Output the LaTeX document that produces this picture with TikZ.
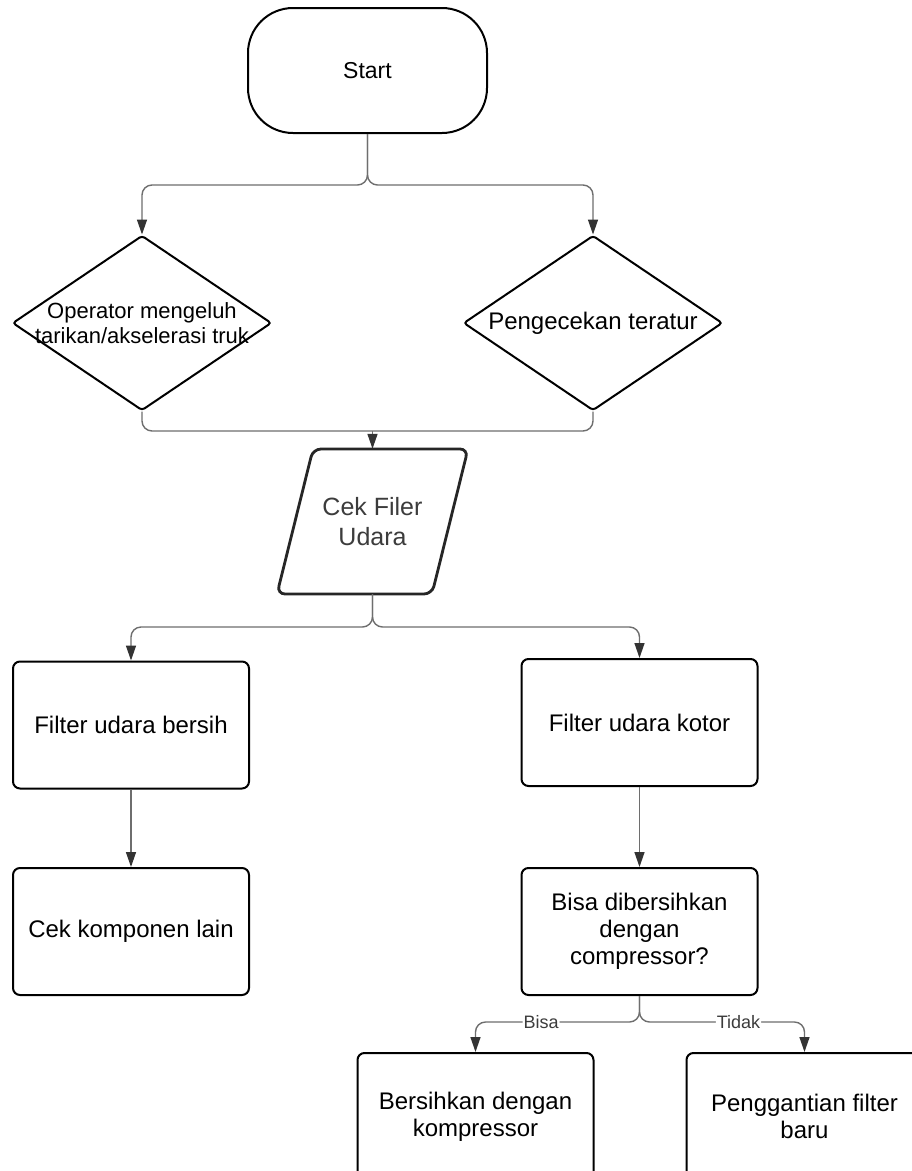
\documentclass[tikz,border=0pt]{standalone}
\usepackage{fontspec}
\setmainfont{Liberation Sans}
\usetikzlibrary{arrows.meta,shapes.geometric,calc}
\definecolor{linegray}{HTML}{6E6E6E}
\definecolor{tipgray}{HTML}{333333}
\definecolor{inkgray}{HTML}{3C3C3C}

\begin{document}
\begin{tikzpicture}[x=1pt,y=-1pt,
  box/.style={draw=black, line width=2pt, rounded corners=7pt,
    minimum width=236pt, minimum height=127pt, inner sep=0pt,
    align=center, font=\fontsize{24}{27}\selectfont},
  decision/.style={draw=black, line width=2pt, diamond, rounded corners=3pt,
    minimum width=259pt, minimum height=175pt, inner sep=0pt},
  terminal/.style={draw=black, line width=2pt, rounded corners=45pt,
    minimum width=239pt, minimum height=125pt, inner sep=0pt,
    font=\fontsize{23}{27}\selectfont},
  link/.style={draw=linegray, line width=1.4pt, rounded corners=10pt},
  conn/.style={link, -{Triangle[length=15pt,width=10pt,color=tipgray]}},
  lbl/.style={fill=white, text=inkgray, inner sep=1pt,
    font=\fontsize{18}{20}\selectfont},
  dtext/.style={align=center, font=\fontsize{22}{25}\selectfont},
]
% canvas
\useasboundingbox (0,0) rectangle (912,1171);
\fill[white] (0,0) rectangle (912,1171);
\clip (0,0) rectangle (912,1171);

% nodes
\node[terminal] (start) at (367.5,70.5) {Start};

\node[decision, label={[dtext]center:Operator mengeluh\\tarikan/akselerasi truk}] (d1) at (142,323) {};
\node[decision, label={[dtext, font=\fontsize{24}{27}\selectfont]center:Pengecekan teratur}] (d2) at (593,323) {};

\node[minimum width=155pt, minimum height=145pt, inner sep=0pt, align=center,
      text=inkgray, font=\fontsize{25}{30}\selectfont] (cek) at (372.5,521.5) {Cek Filer\\Udara};
\draw[line width=2.8pt, draw=black!85, rounded corners=8pt]
  ($(cek)+(-59.5,-72.5)$) -- ($(cek)+(95.5,-72.5)$) --
  ($(cek)+(59.5,72.5)$) -- ($(cek)+(-95.5,72.5)$) -- cycle;

\node[box] (bersih) at (131,725) {Filter udara bersih};
\node[box] (kotor) at (639.5,722.5) {Filter udara kotor};
\node[box] (lain) at (131,931.5) {Cek komponen lain};
\node[box] (dec) at (639.5,931.5) {Bisa dibersihkan\\dengan\\compressor?};
\node[box] (clean) at (475.5,1116.5) {Bersihkan dengan\\kompressor};
\node[box] (ganti) at (804.5,1116.5) {Penggantian filter\\baru};

% junction levels
\coordinate (j1) at (0,185);
\coordinate (j2) at (0,431);
\coordinate (j3) at (0,627);
\coordinate (j4) at (0,1022);

% connectors
\draw[conn] (start.south) -- (start.south |- j1) -- (d1.north |- j1) -- (d1.north);
\draw[conn] (start.south) -- (start.south |- j1) -- (d2.north |- j1) -- (d2.north);

\draw[link] (d1.south) -- (d1.south |- j2) -- (d2.south |- j2) -- (d2.south);
\draw[conn] (cek.north |- j2) -- (cek.north);

\draw[conn] (cek.south) -- (cek.south |- j3) -- (bersih.north |- j3) -- (bersih.north);
\draw[conn] (cek.south) -- (cek.south |- j3) -- (kotor.north |- j3) -- (kotor.north);

\draw[conn] (bersih.south) -- (lain.north);
\draw[conn] (kotor.south) -- (dec.north);

\draw[conn] (dec.south) -- (dec.south |- j4)
  -- node[lbl, pos=0.6] (lblbisa) {Bisa} (clean.north |- j4) -- (clean.north);
\draw[conn] (dec.south) -- (dec.south |- j4)
  -- node[lbl, pos=0.6] (lbltidak) {Tidak} (ganti.north |- j4) -- (ganti.north);
\end{tikzpicture}
\end{document}
